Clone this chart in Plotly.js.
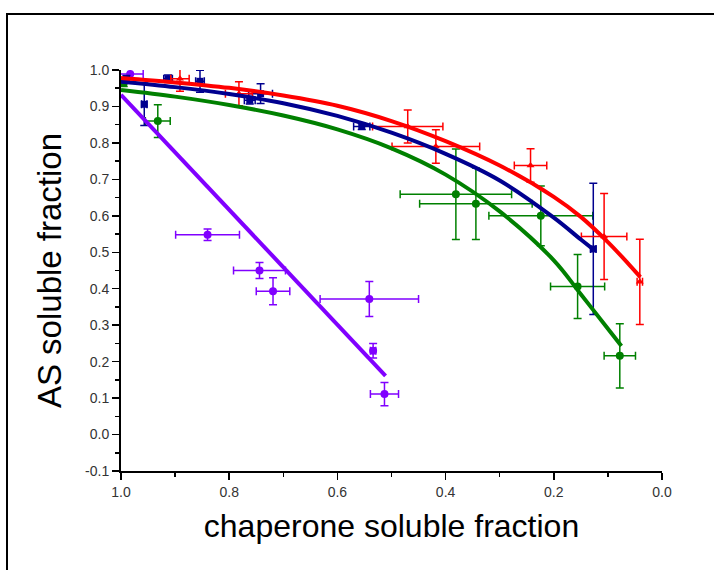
<!DOCTYPE html>
<html>
<head>
<meta charset="utf-8">
<script src="https://cdn.plot.ly/plotly-3.0.1.min.js"></script>
<style>
  html, body { margin: 0; padding: 0; background: #fff; overflow: hidden; }
  #frame { position: absolute; left: 6px; top: 13px; width: 760px; height: 620px; border: 2px solid #000; box-sizing: border-box; pointer-events: none; z-index: 5; }
  #chart { position: absolute; left: 0; top: 0; width: 714px; height: 570px; }
</style>
</head>
<body>
<div id="frame"></div>
<div id="chart"></div>
<script>
// ---- data points (x = chaperone soluble fraction, y = AS soluble fraction) ----
const redX    = [0.891, 0.782, 0.470, 0.418, 0.243, 0.107, 0.041];
const redY    = [0.976, 0.935, 0.845, 0.790, 0.738, 0.543, 0.419];
const redXErr = [0.017, 0.025, 0.065, 0.081, 0.030, 0.042, 0.005];
const redYErr = [0.034, 0.033, 0.045, 0.046, 0.046, 0.118, 0.117];

const navyX    = [0.990, 0.957, 0.913, 0.854, 0.762, 0.742, 0.555, 0.127];
const navyY    = [0.975, 0.906, 0.976, 0.969, 0.917, 0.935, 0.845, 0.509];
const navyXErr = [0.005, 0.005, 0.008, 0.008, 0.010, 0.022, 0.015, 0.005];
const navyYErr = [0.010, 0.058, 0.010, 0.030, 0.010, 0.027, 0.008, 0.180];

const greenX    = [0.995, 0.932, 0.381, 0.344, 0.224, 0.156, 0.078];
const greenY    = [0.965, 0.860, 0.659, 0.633, 0.600, 0.406, 0.216];
const greenXErr = [0.005, 0.023, 0.103, 0.104, 0.096, 0.050, 0.029];
const greenYErr = [0.010, 0.045, 0.124, 0.098, 0.082, 0.088, 0.088];

const purpleX    = [0.983, 0.840, 0.744, 0.719, 0.541, 0.534, 0.513];
const purpleY    = [0.989, 0.548, 0.450, 0.393, 0.372, 0.230, 0.111];
const purpleXErr = [0.024, 0.059, 0.048, 0.031, 0.091, 0.005, 0.026];
const purpleYErr = [0.015, 0.016, 0.022, 0.037, 0.048, 0.020, 0.032];

// ---- fitted curves ----
const redFitX = [1.0, 0.9, 0.8, 0.7, 0.6, 0.5, 0.4, 0.3, 0.2, 0.15, 0.1, 0.06, 0.04];
const redFitY = [0.978, 0.966, 0.951, 0.930, 0.902, 0.860, 0.805, 0.738, 0.652, 0.597, 0.528, 0.465, 0.432];

const navyFitX = [1.0, 0.9, 0.8, 0.7, 0.6, 0.5, 0.4, 0.3, 0.2, 0.15, 0.127];
const navyFitY = [0.968, 0.953, 0.934, 0.909, 0.874, 0.828, 0.770, 0.697, 0.595, 0.535, 0.508];

const greenFitX = [1.0, 0.9, 0.8, 0.7, 0.6, 0.5, 0.4, 0.3, 0.2, 0.15, 0.1, 0.075];
const greenFitY = [0.945, 0.927, 0.904, 0.875, 0.837, 0.785, 0.713, 0.612, 0.478, 0.385, 0.290, 0.243];

const purpleFitX = [1.0, 0.511];
const purpleFitY = [0.932, 0.161];

// ---- tick labels ----
const xTickVals = [1.0, 0.8, 0.6, 0.4, 0.2, 0.0];
const xTickText = ['1.0', '0.8', '0.6', '0.4', '0.2', '0.0'];
const yTickVals = [-0.1, 0.0, 0.1, 0.2, 0.3, 0.4, 0.5, 0.6, 0.7, 0.8, 0.9, 1.0];
const yTickText = ['-0.1', '0.0', '0.1', '0.2', '0.3', '0.4', '0.5', '0.6', '0.7', '0.8', '0.9', '1.0'];

const RED = '#ff0000', NAVY = '#00008f', GREEN = '#008000', PURPLE = '#8000ff';

function pts(x, y, ex, ey, color, symbol, size) {
  return {
    type: 'scatter', mode: 'markers', x: x, y: y,
    marker: { color: color, size: size, symbol: symbol },
    error_x: { type: 'data', array: ex, visible: true, color: color, thickness: 1.5, width: 4 },
    error_y: { type: 'data', array: ey, visible: true, color: color, thickness: 1.5, width: 4 },
    cliponaxis: true, showlegend: false, hoverinfo: 'x+y'
  };
}
function fit(x, y, color) {
  return {
    type: 'scatter', mode: 'lines', x: x, y: y,
    line: { color: color, width: 4, shape: 'spline', smoothing: 1 },
    showlegend: false, hoverinfo: 'skip'
  };
}

const data = [
  pts(purpleX, purpleY, purpleXErr, purpleYErr, PURPLE, 'circle', 8),
  pts(greenX, greenY, greenXErr, greenYErr, GREEN, 'circle', 8),
  pts(navyX, navyY, navyXErr, navyYErr, NAVY, 'square', 7),
  pts(redX, redY, redXErr, redYErr, RED, 'triangle-up', 7),
  fit(purpleFitX, purpleFitY, PURPLE),
  fit(greenFitX, greenFitY, GREEN),
  fit(navyFitX, navyFitY, NAVY),
  fit(redFitX, redFitY, RED)
];

const tickFont = { family: 'Liberation Sans, Arial, sans-serif', size: 14, color: '#333333' };

const layout = {
  width: 714, height: 570,
  margin: { l: 121, r: 52, t: 70, b: 99, pad: 0 },
  paper_bgcolor: '#ffffff', plot_bgcolor: '#ffffff',
  showlegend: false,
  xaxis: {
    range: [1.0, 0.0], autorange: false,
    tickmode: 'array', tickvals: xTickVals, ticktext: xTickText,
    showgrid: false, zeroline: false,
    showline: true, linecolor: '#000', linewidth: 2, mirror: false,
    ticks: 'outside', ticklen: 7, tickwidth: 1.5, tickcolor: '#000',
    minor: { tickvals: [0.9, 0.7, 0.5, 0.3, 0.1], ticks: 'outside', ticklen: 4, tickwidth: 1.5, tickcolor: '#000', showgrid: false },
    tickfont: tickFont,
    title: { text: 'chaperone soluble fraction', font: { family: 'Liberation Sans, Arial, sans-serif', size: 32, color: '#000' }, standoff: 16 },
    automargin: false
  },
  yaxis: {
    range: [-0.1, 1.0], autorange: false,
    tickmode: 'array', tickvals: yTickVals, ticktext: yTickText,
    showgrid: false, zeroline: false,
    showline: true, linecolor: '#000', linewidth: 2, mirror: false,
    ticks: 'outside', ticklen: 7, tickwidth: 1.5, tickcolor: '#000',
    minor: { tickvals: [-0.05, 0.05, 0.15, 0.25, 0.35, 0.45, 0.55, 0.65, 0.75, 0.85, 0.95], ticks: 'outside', ticklen: 4, tickwidth: 1.5, tickcolor: '#000', showgrid: false },
    tickfont: tickFont,
    title: { text: 'AS soluble fraction', font: { family: 'Liberation Sans, Arial, sans-serif', size: 33, color: '#000' }, standoff: 14 },
    automargin: false
  }
};

Plotly.newPlot('chart', data, layout, { displayModeBar: false, staticPlot: true });
</script>
</body>
</html>
